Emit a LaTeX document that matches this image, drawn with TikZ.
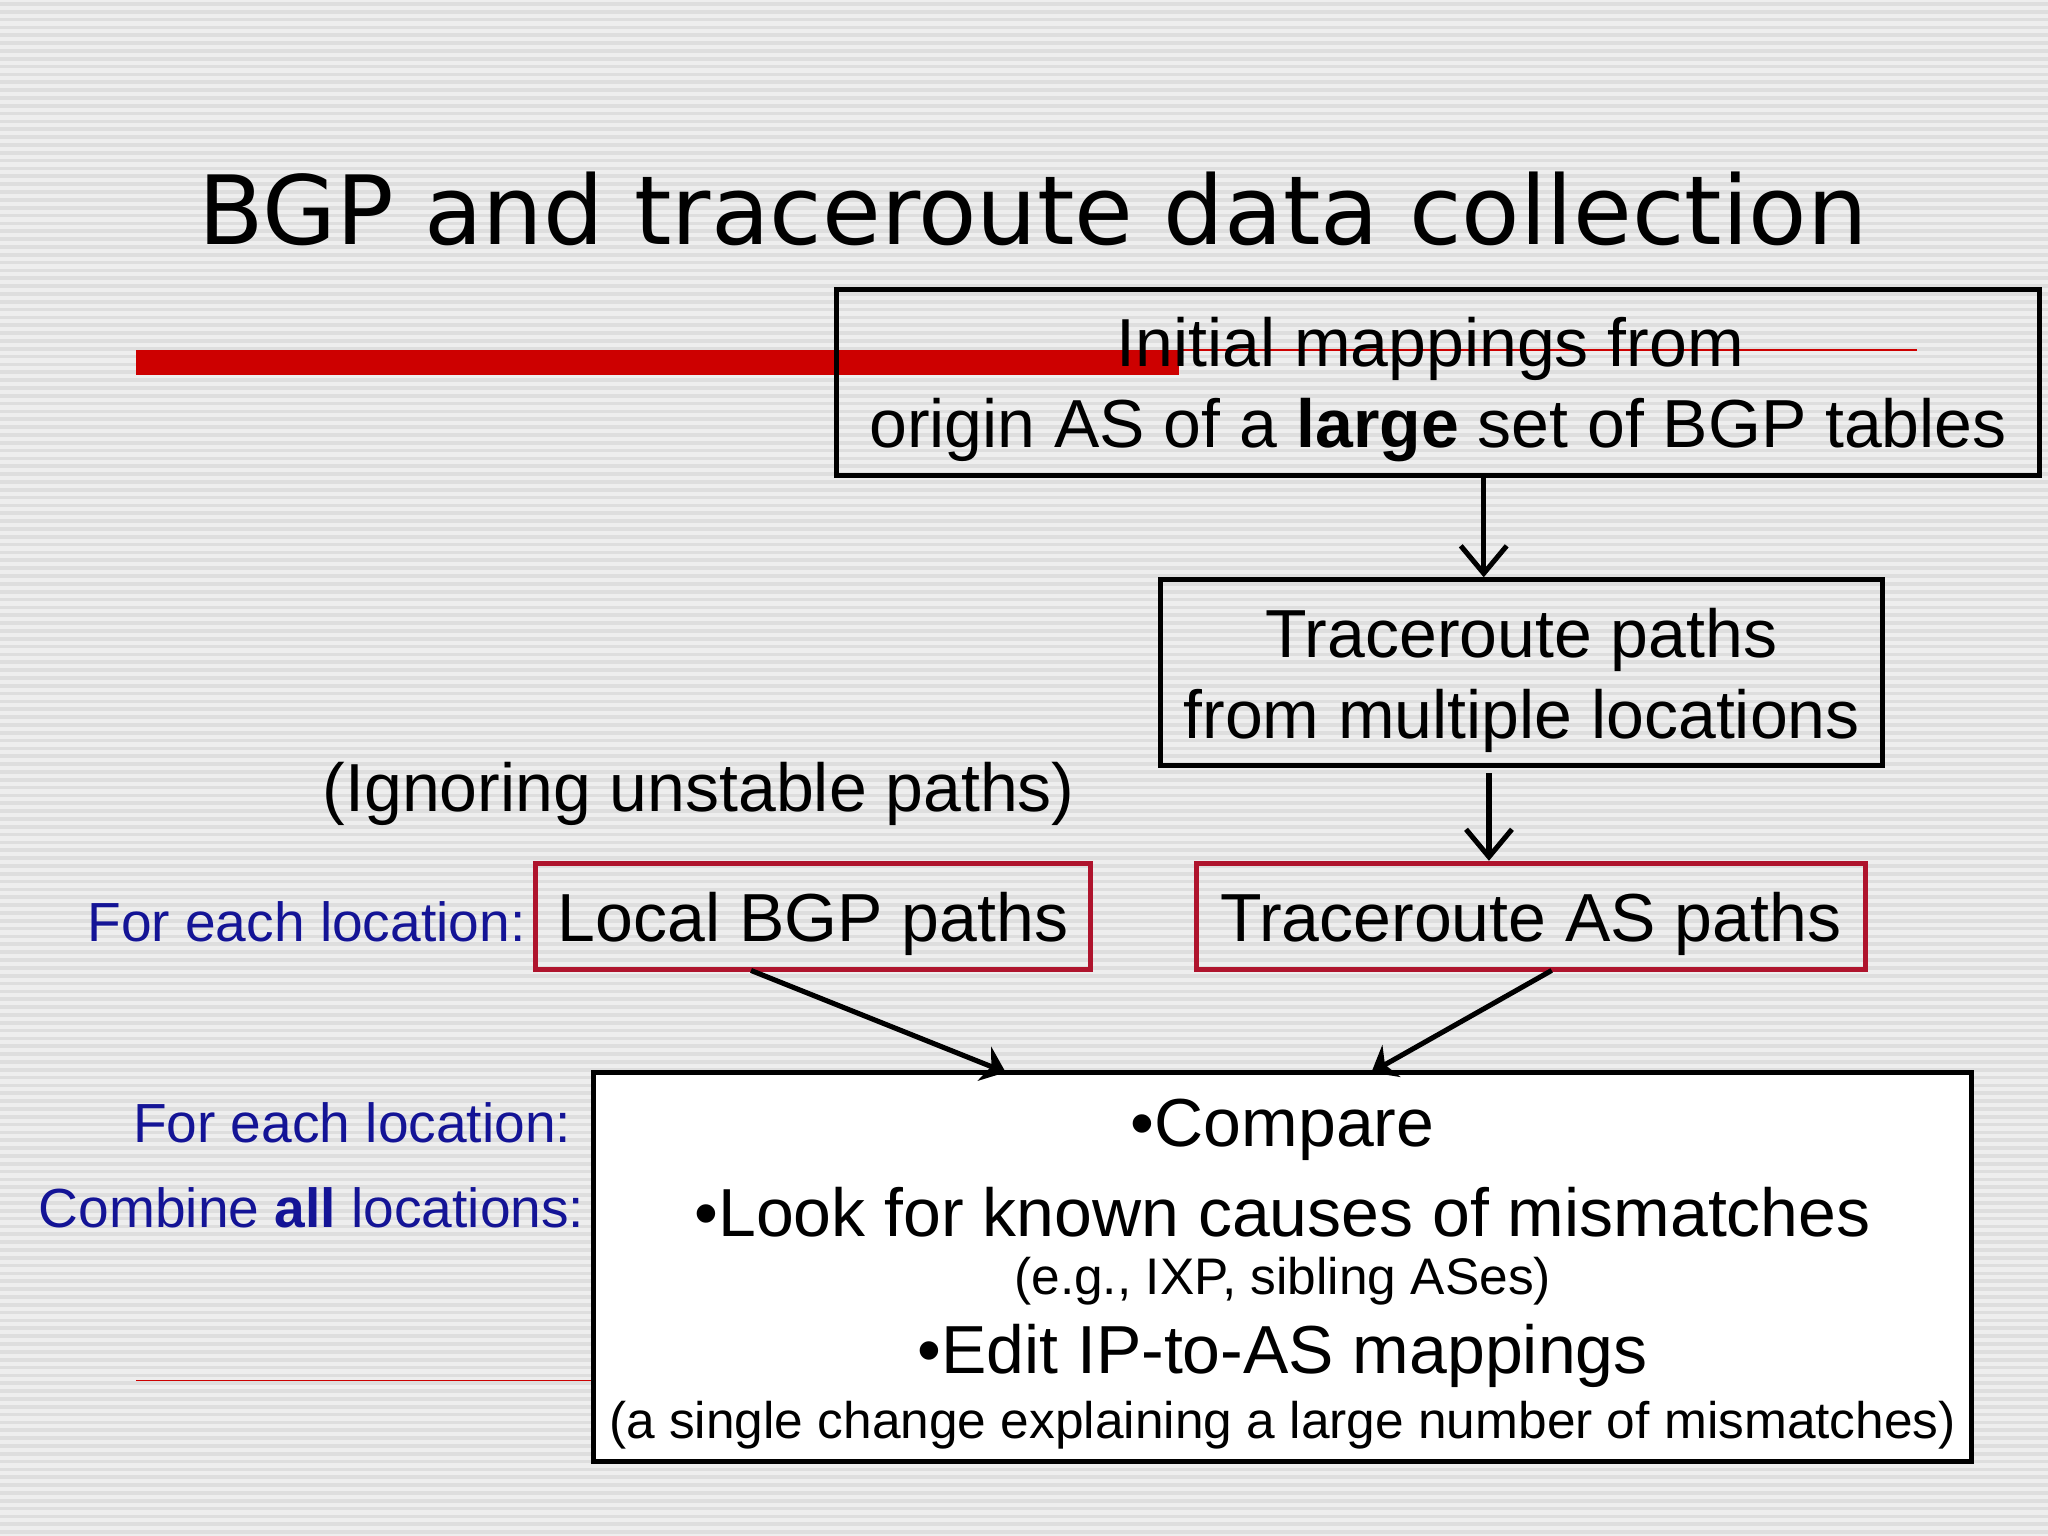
\documentclass[tikz,border=0pt]{standalone}
\usepackage{fontspec}
\setmainfont{Liberation Sans}
\newfontfamily\titlefont{DejaVu Sans}
\usetikzlibrary{arrows.meta}
\definecolor{bg}{RGB}{238,238,238}
\definecolor{stripe}{RGB}{222,222,222}
\definecolor{dred}{RGB}{175,20,45}
\definecolor{bred}{RGB}{205,0,0}
\definecolor{navy}{RGB}{20,20,150}
\tikzset{
  blackbox/.style={draw=black,line width=1.1pt,inner sep=0pt},
  redbox/.style={draw=dred,line width=1.1pt,inner sep=0pt},
  flow/.style={line width=1.1pt,-{Straight Barb[length=6pt,width=10pt]}},
  link/.style={line width=1.1pt,-{Stealth[length=5pt,width=8pt]}},
  txt/.style={font=\fontsize{14.8pt}{16pt}\selectfont,inner sep=0pt,anchor=center},
  small/.style={font=\fontsize{11.2pt}{12pt}\selectfont,inner sep=0pt},
  blue/.style={font=\fontsize{12pt}{13pt}\selectfont,text=navy,inner sep=0pt,anchor=east}
}
\begin{document}
\begin{tikzpicture}[x=0.01cm,y=-0.01cm]
\useasboundingbox (0,0) rectangle (1568,1176);
\fill[bg] (0,0) rectangle (1568,1176);
\foreach \i in {0,...,195} \draw[stripe,line width=0.8pt] (0,\i*6+3) -- (1568,\i*6+3);
\node[inner sep=0pt,font=\titlefont\fontsize{20.8pt}{24pt}\selectfont] (title) at (791,160) {BGP and traceroute data collection};
\fill[bred] (104,268) rectangle (903,287);
\draw[bred,line width=0.4pt] (903,268) -- (1468,268);
\draw[bred,line width=0.4pt] (104,1057) -- (455,1057);
% box 1
\node[blackbox,minimum width=9.2cm,minimum height=1.42cm] (b1) at (1101,293) {};
\node[txt] (b1a) at (1095,267) {Initial mappings from};
\node[txt] (b1b) at (1101,329) {origin AS of a \textbf{large} set of BGP tables};
% box 2
\node[blackbox,minimum width=5.52cm,minimum height=1.42cm] (b2) at (1165,515) {};
\node[txt] (b2a) at (1165,490) {Traceroute paths};
\node[txt] (b2b) at (1165,552) {from multiple locations};
\draw[flow] (b1.south -| 1136,0) -- (b2.north -| 1136,0);
\node[txt] (ign) at (535,608) {(Ignoring unstable paths)};
% red boxes
\node[redbox,minimum width=4.25cm,minimum height=0.81cm] (lbgp) at (622.5,701.5) {};
\node[txt] (lbgpt) at (622.5,707) {Local BGP paths};
\node[redbox,minimum width=5.12cm,minimum height=0.81cm] (tas) at (1172,701.5) {};
\node[txt] (tast) at (1172,707) {Traceroute AS paths};
\draw[flow] (b2.south -| 1140,0) ++(0,4) coordinate (b2s) -- (tas.north -| b2s);
\node[blue] (l1) at (403,706) {For each location:};
% big box
\node[blackbox,fill=white,minimum width=10.54cm,minimum height=2.98cm] (big) at (982,970) {};
\node[txt] (c1) at (982,865) {•Compare};
\node[txt] (c2) at (982,928) {•Look for known causes of mismatches};
\node[small] (c3) at (982,981) {(e.g., IXP, sibling ASes)};
\node[txt] (c4) at (982,1038) {•Edit IP-to-AS mappings};
\node[small] (c5) at (982,1091) {(a single change explaining a large number of mismatches)};
\coordinate (lb) at (575,743);
\coordinate (tb) at (1188,743);
\draw[link] (lb) -- (770,821);
\draw[link] (tb) -- (1050,821);
\node[blue] (l2) at (438,860) {For each location:};
\node[blue] (l3) at (448,925) {Combine \textbf{all} locations:};
\end{tikzpicture}
\end{document}
